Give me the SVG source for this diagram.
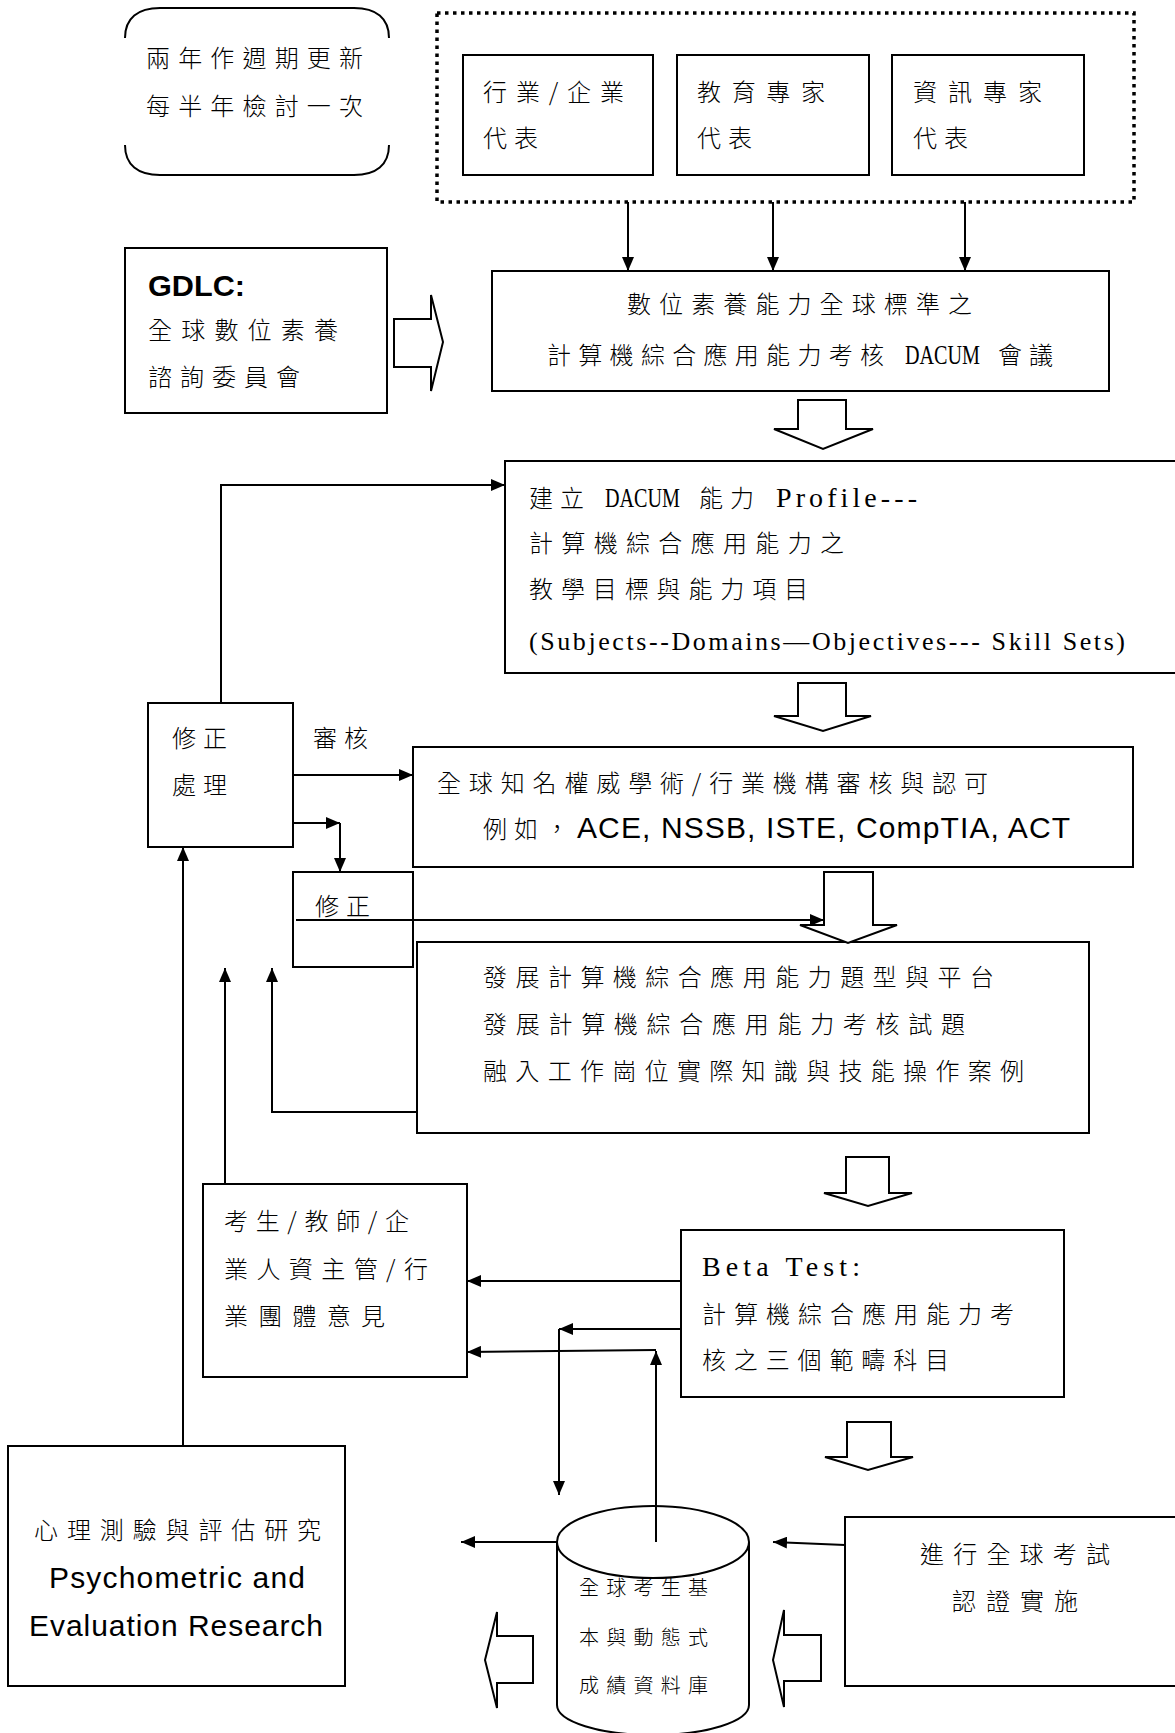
<svg xmlns="http://www.w3.org/2000/svg" width="1175" height="1733" viewBox="0 0 1175 1733">
<style>
.c{font-family:"Noto Sans CJK TC","Noto Sans CJK SC",sans-serif;font-size:24px;font-weight:300;letter-spacing:7px;fill:#000}
.cs{font-family:"Noto Sans CJK TC","Noto Sans CJK SC",sans-serif;font-size:20px;font-weight:300;letter-spacing:7px;fill:#000}
.a{font-family:"Liberation Sans",Arial,sans-serif;font-size:30px;fill:#000}
.ab{font-family:"Liberation Sans",Arial,sans-serif;font-size:30px;font-weight:bold;fill:#000}
.m{font-family:"Liberation Serif","Times New Roman",serif;font-size:28px;fill:#000}
.ms{font-family:"Liberation Serif","Times New Roman",serif;font-size:26px;fill:#000}
.box{fill:#fff;stroke:#000;stroke-width:2}
.ln{fill:none;stroke:#000;stroke-width:2}
.blk{fill:#fff;stroke:#000;stroke-width:2;stroke-linejoin:miter}
.dot{fill:none;stroke:#000;stroke-width:3.5;stroke-dasharray:3.5 4.5}
</style>
<defs>
<marker id="ah" viewBox="0 0 14 12" refX="14" refY="6" markerWidth="14" markerHeight="12" orient="auto" markerUnits="userSpaceOnUse">
<path d="M0,0 L14,6 L0,12 z" fill="#000"/>
</marker>
</defs>
<rect width="1175" height="1733" fill="#fff"/>

<g id="cycle-note">
<path class="ln" d="M125,38 C125,18 138,8 160,8 L354,8 C376,8 389,18 389,38"/>
<path class="ln" d="M125,145 C125,165 138,175 160,175 L354,175 C376,175 389,165 389,145"/>
<text class="c" x="146" y="67" textLength="224" lengthAdjust="spacing">兩年作週期更新</text>
<text class="c" x="146" y="115" textLength="224" lengthAdjust="spacing">每半年檢討一次</text>
</g>

<g id="experts-group">
<rect class="dot" x="437" y="13" width="697" height="189"/>
</g>
<g id="industry">
<rect class="box" x="463" y="55" width="190" height="120"/>
<text class="c" x="483" y="101" textLength="148" lengthAdjust="spacing">行業/企業</text>
<text class="c" x="483" y="147">代表</text>
</g>
<g id="education">
<rect class="box" x="677" y="55" width="192" height="120"/>
<text class="c" x="697" y="101" textLength="135" lengthAdjust="spacing">教育專家</text>
<text class="c" x="697" y="147">代表</text>
</g>
<g id="it">
<rect class="box" x="892" y="55" width="192" height="120"/>
<text class="c" x="913" y="101" textLength="136" lengthAdjust="spacing">資訊專家</text>
<text class="c" x="913" y="147">代表</text>
</g>

<g id="gdlc">
<rect class="box" x="125" y="248" width="262" height="165"/>
<text class="ab" x="148" y="296" textLength="97" lengthAdjust="spacingAndGlyphs">GDLC:</text>
<text class="c" x="148" y="339" textLength="197" lengthAdjust="spacing">全球數位素養</text>
<text class="c" x="148" y="386" textLength="159" lengthAdjust="spacing">諮詢委員會</text>
</g>

<g id="dacum">
<rect class="box" x="492" y="271" width="617" height="120"/>
<text class="c" x="627" y="313" textLength="352" lengthAdjust="spacing">數位素養能力全球標準之</text>
<text class="c" x="547" y="364" textLength="344" lengthAdjust="spacing">計算機綜合應用能力考核</text>
<text class="m" transform="translate(905,364) scale(0.72,1)" x="0" y="0">DACUM</text>
<text class="c" x="998" y="364">會議</text>
</g>

<g id="profile">
<rect class="box" x="505" y="461" width="680" height="212"/>
<text class="c" x="529" y="507">建立</text>
<text class="m" transform="translate(605,507) scale(0.72,1)" x="0" y="0">DACUM</text>
<text class="c" x="699" y="507">能力</text>
<text class="m" x="776" y="507" textLength="141" lengthAdjust="spacing">Profile---</text>
<text class="c" x="529" y="552" textLength="322" lengthAdjust="spacing">計算機綜合應用能力之</text>
<text class="c" x="529" y="598" textLength="286" lengthAdjust="spacing">教學目標與能力項目</text>
<text class="ms" x="529" y="650" textLength="596" lengthAdjust="spacing">(Subjects--Domains—Objectives--- Skill Sets)</text>
</g>

<g id="revise-process">
<rect class="box" x="148" y="703" width="145" height="144"/>
<text class="c" x="172" y="747">修正</text>
<text class="c" x="172" y="794">處理</text>
</g>

<g id="review-label">
<text class="c" x="313" y="747">審核</text>
</g>

<g id="review">
<rect class="box" x="413" y="747" width="720" height="120"/>
<text class="c" x="437" y="792" textLength="558" lengthAdjust="spacing">全球知名權威學術/行業機構審核與認可</text>
<text class="c" x="483" y="838">例如，</text>
<text class="a" x="577" y="838" textLength="493" lengthAdjust="spacing">ACE, NSSB, ISTE, CompTIA, ACT</text>
</g>

<g id="revise">
<rect class="box" x="293" y="872" width="120" height="95"/>
<text class="c" x="315" y="915">修正</text>
</g>

<g id="develop">
<rect class="box" x="417" y="942" width="672" height="191"/>
<text class="c" x="483" y="986" textLength="518" lengthAdjust="spacing">發展計算機綜合應用能力題型與平台</text>
<text class="c" x="483" y="1033" textLength="489" lengthAdjust="spacing">發展計算機綜合應用能力考核試題</text>
<text class="c" x="483" y="1080" textLength="548" lengthAdjust="spacing">融入工作崗位實際知識與技能操作案例</text>
</g>

<g id="opinions">
<rect class="box" x="203" y="1184" width="264" height="193"/>
<text class="c" x="224" y="1230" textLength="192" lengthAdjust="spacing">考生/教師/企</text>
<text class="c" x="224" y="1278" textLength="211" lengthAdjust="spacing">業人資主管/行</text>
<text class="c" x="224" y="1325" textLength="168" lengthAdjust="spacing">業團體意見</text>
</g>

<g id="beta">
<rect class="box" x="681" y="1230" width="383" height="167"/>
<text class="m" x="702" y="1276" textLength="158" lengthAdjust="spacing">Beta Test:</text>
<text class="c" x="702" y="1323" textLength="319" lengthAdjust="spacing">計算機綜合應用能力考</text>
<text class="c" x="702" y="1369" textLength="254" lengthAdjust="spacing">核之三個範疇科目</text>
</g>

<g id="psychometric">
<rect class="box" x="8" y="1446" width="337" height="240"/>
<text class="c" x="34" y="1539" textLength="294" lengthAdjust="spacing">心理測驗與評估研究</text>
<text class="a" x="49" y="1588" textLength="256" lengthAdjust="spacing">Psychometric and</text>
<text class="a" x="29" y="1636" textLength="294" lengthAdjust="spacing">Evaluation Research</text>
</g>

<g id="database">
<path class="box" d="M557,1542 L557,1705 A96,30 0 0 0 749,1705 L749,1542"/>
<ellipse class="box" cx="653" cy="1542" rx="96" ry="36"/>
<text class="cs" x="579" y="1595" textLength="136" lengthAdjust="spacing">全球考生基</text>
<text class="cs" x="579" y="1645" textLength="136" lengthAdjust="spacing">本與動態式</text>
<text class="cs" x="579" y="1693" textLength="136" lengthAdjust="spacing">成績資料庫</text>
</g>

<g id="exam">
<rect class="box" x="845" y="1517" width="340" height="169"/>
<text class="c" x="920" y="1563" textLength="197" lengthAdjust="spacing">進行全球考試</text>
<text class="c" x="952" y="1610" textLength="133" lengthAdjust="spacing">認證實施</text>
</g>

<g id="connectors">
<line class="ln" x1="628" y1="202" x2="628" y2="271" marker-end="url(#ah)"/>
<line class="ln" x1="773" y1="202" x2="773" y2="271" marker-end="url(#ah)"/>
<line class="ln" x1="965" y1="202" x2="965" y2="271" marker-end="url(#ah)"/>
<polyline class="ln" points="221,703 221,485 505,485" marker-end="url(#ah)"/>
<line class="ln" x1="293" y1="775" x2="413" y2="775" marker-end="url(#ah)"/>
<line class="ln" x1="293" y1="823" x2="340" y2="823" marker-end="url(#ah)"/>
<line class="ln" x1="340" y1="823" x2="340" y2="872" marker-end="url(#ah)"/>
<line class="ln" x1="296" y1="920" x2="824" y2="920" marker-end="url(#ah)"/>
<polyline class="ln" points="417,1112 272,1112 272,968" marker-end="url(#ah)"/>
<line class="ln" x1="225" y1="1184" x2="225" y2="968" marker-end="url(#ah)"/>
<line class="ln" x1="183" y1="1446" x2="183" y2="847" marker-end="url(#ah)"/>
<line class="ln" x1="681" y1="1281" x2="467" y2="1281" marker-end="url(#ah)"/>
<line class="ln" x1="681" y1="1329" x2="559" y2="1329" marker-end="url(#ah)"/>
<line class="ln" x1="559" y1="1329" x2="559" y2="1495" marker-end="url(#ah)"/>
<line class="ln" x1="656" y1="1542" x2="656" y2="1351" marker-end="url(#ah)"/>
<line class="ln" x1="656" y1="1350" x2="467" y2="1352" marker-end="url(#ah)"/>
<line class="ln" x1="557" y1="1542" x2="461" y2="1542" marker-end="url(#ah)"/>
<line class="ln" x1="845" y1="1545" x2="773" y2="1542" marker-end="url(#ah)"/>
<polygon class="blk" points="394,319 431,319 431,295 443,342 431,391 431,367 394,367"/>
<polygon class="blk" points="798,400 846,400 846,429 873,429 823,449 774,429 798,429"/>
<polygon class="blk" points="798,683 846,683 846,716 871,716 823,731 774,716 798,716"/>
<polygon class="blk" points="824,872 873,872 873,925 897,925 848,943 800,925 824,925"/>
<polygon class="blk" points="846,1157 889,1157 889,1193 912,1193 868,1206 824,1193 846,1193"/>
<polygon class="blk" points="847,1422 891,1422 891,1457 913,1457 868,1470 825,1457 847,1457"/>
<polygon class="blk" points="497,1612 497,1636 533,1636 533,1683 497,1683 497,1708 485,1660"/>
<polygon class="blk" points="784,1610 784,1635 821,1635 821,1681 784,1681 784,1707 773,1660"/>
</g>
</svg>
